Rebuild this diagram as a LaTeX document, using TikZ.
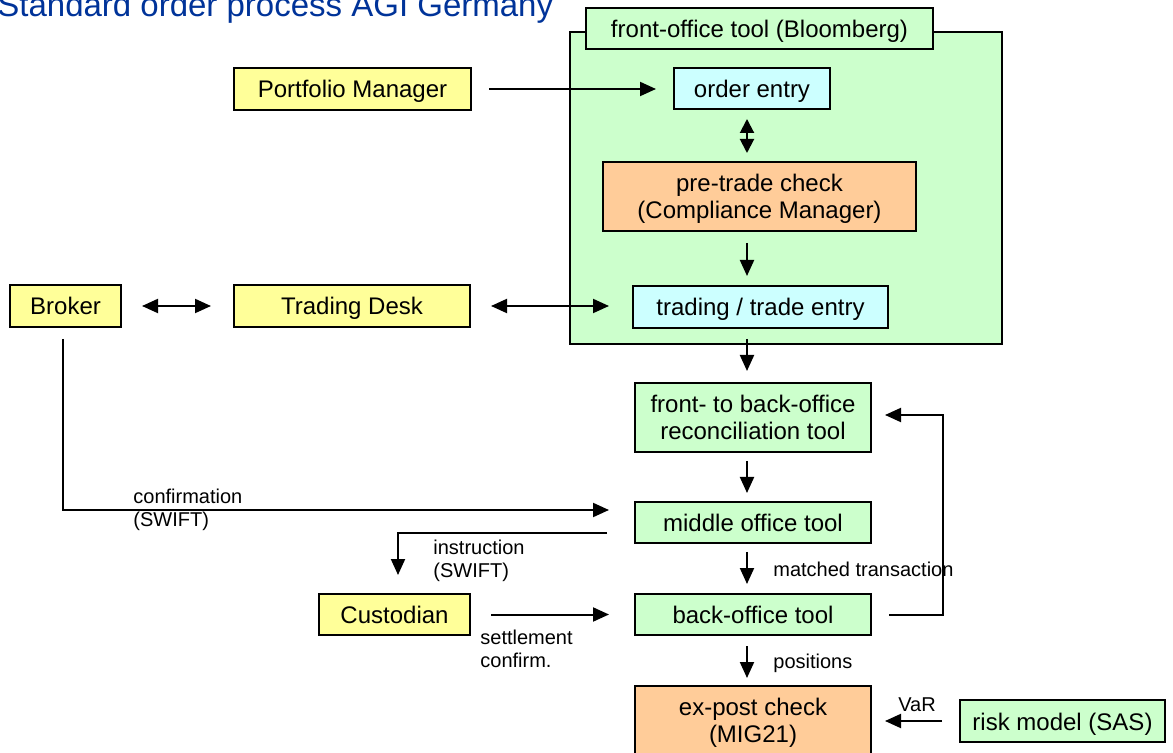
\documentclass[tikz,border=0pt]{standalone}
\usepackage{fontspec}
\setmainfont{Liberation Sans}
\usetikzlibrary{positioning,arrows.meta,calc}
\usepackage{xcolor}

\definecolor{boxyellow}{HTML}{FFFF99}
\definecolor{boxgreen}{HTML}{CCFFCC}
\definecolor{boxcyan}{HTML}{CCFFFF}
\definecolor{boxorange}{HTML}{FFCC99}
\definecolor{titleblue}{HTML}{003399}

\begin{document}
\begin{tikzpicture}[x=0.5pt, y=-0.5pt,
  box/.style={draw, line width=1pt, inner sep=0pt, align=center, font=\fontsize{12}{13.5}\selectfont},
  oneline/.style={text height=10.5pt, text depth=1.5pt},
  twoline/.style={text depth=0pt},
  boxsize/.style 2 args={minimum width=#1*0.5pt, minimum height=#2*0.5pt},
  lbl/.style={inner sep=0pt, align=left, font=\fontsize{10}{11.5}\selectfont},
  arr/.style={-{Triangle[length=8pt,width=7pt]}, line width=1pt},
  dblarr/.style={{Triangle[length=8pt,width=7pt]}-{Triangle[length=8pt,width=7pt]}, line width=1pt}]

\useasboundingbox (0,0) rectangle (1173,753);
\clip (0,0) rectangle (1173,753);

\node[anchor=base west, inner sep=0pt, text=titleblue, font=\fontsize{16.5}{20}\selectfont] (title) at (-3,17) {Standard order process AGI Germany};

% front-office container
\node[box, fill=boxgreen, boxsize={432}{312}] (frontoffice) at (786,188) {};
\node[box, oneline, fill=boxgreen, boxsize={347}{41}] (fotool) at (759.5,28.5) {front-office tool (Bloomberg)};

\node[box, oneline, fill=boxcyan, boxsize={156}{41}] (orderentry) at (752,88.5) {order entry};
\node[box, twoline, fill=boxorange, boxsize={313}{69}] (pretrade) at (759.5,196.5) {pre-trade check\\(Compliance Manager)};
\node[box, oneline, fill=boxcyan, boxsize={255}{42}] (trading) at (760.5,307) {trading / trade entry};

% actors
\node[box, oneline, fill=boxyellow, boxsize={237}{42}] (pm) at (352.5,89) {Portfolio Manager};
\node[box, oneline, fill=boxyellow, boxsize={111}{42}] (broker) at (65.5,306) {Broker};
\node[box, oneline, fill=boxyellow, boxsize={236}{42}] (desk) at (352,306) {Trading Desk};
\node[box, oneline, fill=boxyellow, boxsize={151}{41}] (custodian) at (394.5,614.5) {Custodian};

% back-office chain
\node[box, fill=boxgreen, boxsize={236}{69}] (recon) at (753,417.5) {front- to back-office\\reconciliation tool};
\node[box, oneline, fill=boxgreen, boxsize={236}{41}] (middle) at (753,522.5) {middle office tool};
\node[box, oneline, fill=boxgreen, boxsize={236}{41}] (back) at (753,614.5) {back-office tool};
\node[box, twoline, fill=boxorange, boxsize={236}{69}] (expost) at (753,720.5) {ex-post check\\(MIG21)};
\node[box, oneline, fill=boxgreen, boxsize={205}{42}] (risk) at (1062.5,721) {risk model (SAS)};

\coordinate (axis) at (747,0);

% vertical flow
\draw[dblarr, {Triangle[length=7pt,width=7pt]}-{Triangle[length=7pt,width=7pt]}, shorten <=4.5pt, shorten >=4pt] (orderentry.south -| axis) -- (pretrade.north -| axis);
\draw[arr, shorten <=5.5pt, shorten >=4.5pt] (pretrade.south -| axis) -- (trading.north -| axis);
\draw[arr, shorten <=5pt, shorten >=5.5pt] (trading.south -| axis) -- (recon.north -| axis);
\draw[arr, shorten <=4pt, shorten >=4pt] (recon.south -| axis) -- (middle.north -| axis);
\draw[arr, shorten <=4pt, shorten >=4.5pt] (middle.south -| axis) -- (back.north -| axis);
\draw[arr, shorten <=5pt, shorten >=3.5pt] (back.south -| axis) -- (expost.north -| axis);

% horizontal flow
\draw[arr, shorten <=8.5pt, shorten >=8.5pt] (pm.east) -- (pm.east -| orderentry.west);
\draw[dblarr, shorten <=10pt, shorten >=11pt] (broker.east) -- (desk.west);
\draw[dblarr, shorten <=10pt, shorten >=11.5pt] (desk.east) -- (desk.east -| trading.west);
\draw[arr, shorten <=10pt, shorten >=12.5pt] (custodian.east) -- (back.west);
\draw[arr, shorten <=8.5pt, shorten >=6.5pt] (risk.west) -- (risk.west -| expost.east);

% elbows
\draw[arr] ($(broker.south)+(-2.5,11)$) |- ($(middle.west)+(-25,-12.5)$);
\draw[arr] ($(middle.west)+(-27,10.5)$) -| ($(custodian.north)+(3.5,-18)$);
\draw[arr] ($(back.east)+(17,0.5)$) -- ++(54,0) |- ($(recon.east)+(13,-2.5)$);

% labels
\node[lbl, anchor=west] (confirmlbl) at (133,510) {confirmation\\(SWIFT)};
\node[lbl, anchor=west] (instrlbl) at (433,561) {instruction\\(SWIFT)};
\node[lbl, anchor=west] (matchlbl) at (773,569) {matched transaction};
\node[lbl, anchor=west] (settlelbl) at (480,649) {settlement\\confirm.};
\node[lbl, anchor=west] (poslbl) at (773,663) {positions};
\node[lbl] (varlbl) at (917,705) {VaR};

\end{tikzpicture}
\end{document}
